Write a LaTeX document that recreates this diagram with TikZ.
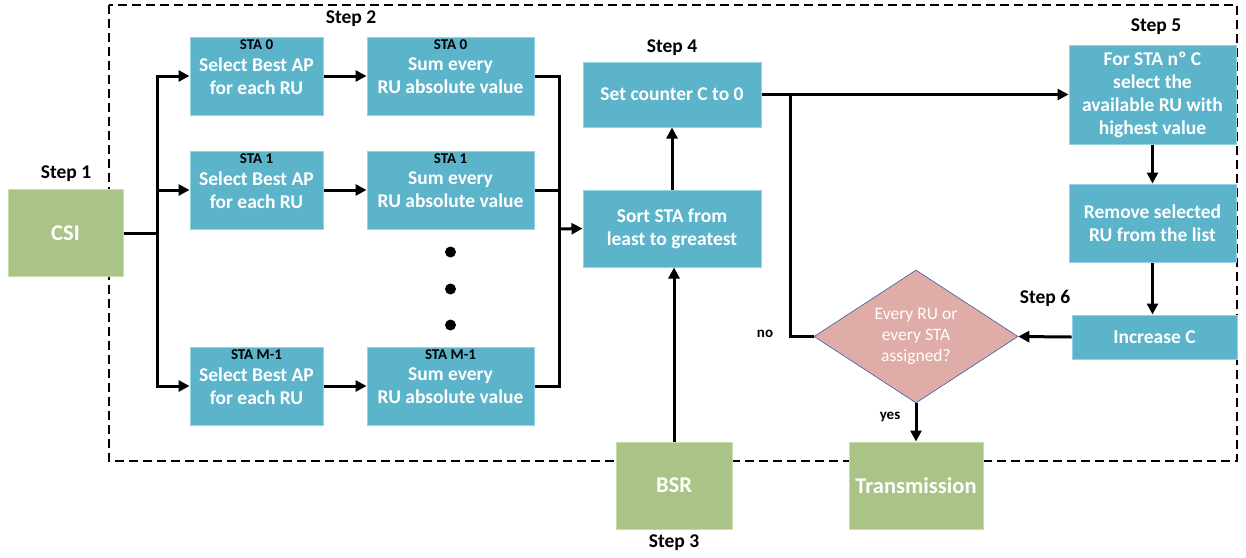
\documentclass[tikz,border=0pt]{standalone}
\usepackage{fontspec}
\setmainfont{Carlito}
\usetikzlibrary{shapes.geometric,arrows.meta}

\definecolor{procfill}{RGB}{91,180,202}
\definecolor{procline}{RGB}{150,210,228}
\definecolor{iofill}{RGB}{170,196,136}
\definecolor{ioline}{RGB}{200,220,172}
\definecolor{decfill}{RGB}{224,172,168}
\definecolor{decline}{RGB}{60,90,160}

\begin{document}
\begin{tikzpicture}[x=1pt,y=-1pt]
  \newcommand{\Xsel}[0]{ 256.5 }
  \newcommand{\Xsum}[0]{ 450.5 }
  \newcommand{\Xfork}[0]{ 157 }
  \newcommand{\Xjoin}[0]{ 559 }
  \newcommand{\Xmid}[0]{ 672 }
  \newcommand{\Xright}[0]{ 1152.5 }

  \tikzstyle{edge}  = [line width=3pt,draw=black]
  \tikzstyle{dedge} = [line width=3pt,->,>={Triangle[length=11pt,width=11pt]},draw=black]
  \tikzstyle{frame} = [line width=2pt,dash pattern=on 9pt off 5pt]
  \tikzstyle{block}=[
    rectangle,
    fill=procfill,
    draw=procline,
    line width=1pt,
    text=white,
    anchor=center,
    align=center,
    inner sep=0pt,
    font=\bfseries\fontsize{19.5}{23}\selectfont,
  ]
  \tikzstyle{io}=[
    block,
    fill=iofill,
    draw=ioline,
    font=\bfseries\fontsize{22.5}{26}\selectfont,
  ]
  \tikzstyle{decision}=[
    diamond,
    aspect=1.53,
    fill=decfill,
    draw=decline,
    line width=0.6pt,
    text=white,
    align=center,
    inner sep=0pt,
    minimum width=204pt,
    minimum height=133pt,
    font=\fontsize{17.5}{21}\selectfont,
  ]
  \tikzstyle{steplabel}=[font=\bfseries\fontsize{19.5}{21}\selectfont]
  \tikzstyle{stalabel}=[font=\bfseries\fontsize{15}{16}\selectfont,anchor=center]
  \tikzstyle{answer}=[font=\bfseries\fontsize{15}{16}\selectfont]

  % #1: prefix
  % #2: y position
  % #3: station name
  \newcommand{\buildStaRow}[3]{
    \node[
      block,
      minimum width=133pt,
      minimum height=78pt,
    ] (#1 sel) at (\Xsel, #2) {Select Best AP\\for each RU};
    \node[stalabel] (#1 sel name) at ([yshift=-8pt]#1 sel.north) {#3};

    \node[
      block,
      minimum width=167pt,
      minimum height=78pt,
    ] (#1 sum) at (\Xsum, #2) {Sum every\\RU absolute value};
    \node[stalabel] (#1 sum name) at ([yshift=-8pt]#1 sum.north) {#3};

    \draw[dedge] (fork) |- (#1 sel.west);
    \draw[dedge] (#1 sel.east) -- (#1 sum.west);
    \draw[edge] (#1 sum.east) -| (join);
  }

  \useasboundingbox (0,0) rectangle (1246,557);

  % scheduler frame
  \draw[frame] (109,5) rectangle (1237,461);

  % channel state input
  \node[io, minimum width=115pt, minimum height=87pt] (csi) at (65.5,233) {CSI};
  \node[steplabel] (step1) at (66,174) {Step 1};

  \coordinate (fork) at (\Xfork, 233);
  \coordinate (join) at (\Xjoin, 229);
  \draw[edge] (csi.east) -- (fork);

  % per station rows
  \buildStaRow{sta0}{76}{STA 0}
  \buildStaRow{sta1}{190}{STA 1}
  \buildStaRow{staM}{386}{STA M-1}
  \node[steplabel] (step2) at (351,19) {Step 2};

  \foreach \y in {252,289,325}
    \fill (\Xsum, \y) circle (5.5pt);

  % sorting and counter
  \node[block, minimum width=178pt, minimum height=77pt] (sort) at (\Xmid, 228.5) {Sort STA from\\least to greatest};
  \node[block, minimum width=178pt, minimum height=65pt] (setc) at (\Xmid, 94.5) {Set counter C to 0};
  \node[steplabel] (step4) at (\Xmid, 48) {Step 4};

  % buffer status report
  \node[io, minimum width=116pt, minimum height=87pt] (bsr) at (674, 485.5) {BSR};
  \node[steplabel] (step3) at (674, 543) {Step 3};

  % assignment loop
  \node[block, minimum width=167pt, minimum height=99pt] (pick) at (\Xright, 94.5) {For STA nº C\\select the\\available RU with\\highest value};
  \node[steplabel] (step5) at (1156, 27) {Step 5};
  \node[block, minimum width=167pt, minimum height=78pt] (remove) at (\Xright, 223) {Remove selected\\RU from the list};
  \node[block, minimum width=165pt, minimum height=44pt] (inc) at (1154.5, 337) {Increase C};
  \node[decision] (dec) at (916, 336.5) {Every RU or\\every STA\\assigned?};
  \node[steplabel] (step6) at (1045, 298) {Step 6};
  \node[io, minimum width=134pt, minimum height=87pt] (tx) at (916, 485.5) {Transmission};
  \node[answer] (no) at (765, 334) {no};
  \node[answer] (yes) at (890, 417) {yes};

  % wiring
  \draw[dedge] (join) -- (sort.west);
  \draw[dedge] (bsr.north) -- (bsr.north |- sort.south);
  \draw[dedge] (sort.north) -- (setc.south);
  \draw[dedge] (setc.east) -- (pick.west);
  \draw[dedge] (pick.south) -- (remove.north);
  \draw[dedge] (remove.south) -- (remove.south |- inc.north);
  \draw[dedge] (inc.west) -- (dec.east);
  \draw[edge] (dec.west) -| ([xshift=29pt]setc.east);
  \draw[dedge] (dec.south) -- (tx.north);
\end{tikzpicture}
\end{document}
